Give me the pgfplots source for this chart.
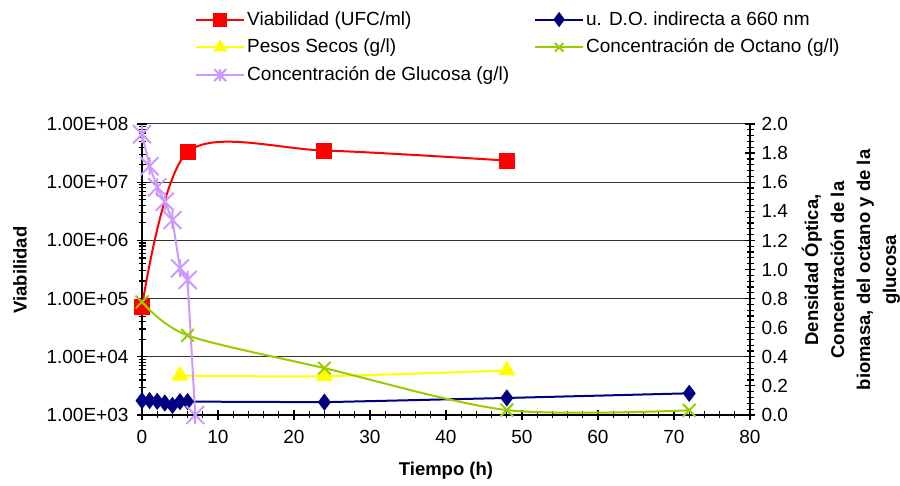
\documentclass[border=0pt]{standalone}
\usepackage{fontspec}
\setmainfont{Liberation Sans}
\usepackage{pgfplots}
\pgfplotsset{compat=1.18}
\definecolor{viab}{RGB}{255,0,0}
\definecolor{od}{RGB}{0,0,128}
\definecolor{ps}{RGB}{255,255,0}
\definecolor{oct}{RGB}{153,204,0}
\definecolor{glu}{RGB}{204,153,255}
\pgfdeclareplotmark{xstar}{%
  \pgfpathmoveto{\pgfqpoint{-\pgfplotmarksize}{-\pgfplotmarksize}}%
  \pgfpathlineto{\pgfqpoint{\pgfplotmarksize}{\pgfplotmarksize}}%
  \pgfpathmoveto{\pgfqpoint{-\pgfplotmarksize}{\pgfplotmarksize}}%
  \pgfpathlineto{\pgfqpoint{\pgfplotmarksize}{-\pgfplotmarksize}}%
  \pgfpathmoveto{\pgfqpoint{0pt}{-\pgfplotmarksize}}%
  \pgfpathlineto{\pgfqpoint{0pt}{\pgfplotmarksize}}%
  \pgfusepathqstroke}
\begin{document}
\fontsize{19}{22}\selectfont
\begin{tikzpicture}[x=1pt,y=1pt]
\useasboundingbox (0,0) rectangle (900,486);
\pgfplotsset{
  common/.style={
    at={(142pt,71pt)}, anchor=south west,
    width=608pt, height=291pt, scale only axis,
    xmin=0, xmax=80, clip=false,
    tick align=center,
    major tick length=10pt, minor tick length=7pt,
    every tick/.style={black, line width=1.2pt},
    axis line style={black, line width=2pt},
    tick label style={font=\fontsize{19}{22}\selectfont},
    /pgf/number format/assume math mode=true,
  }
}
\begin{axis}[common,
  axis y line*=left, axis x line*=bottom,
  ymode=log, ymin=1e3, ymax=1e8,
  ytick={1e3,1e4,1e5,1e6,1e7,1e8},
  yticklabels={1.00E+03,1.00E+04,1.00E+05,1.00E+06,1.00E+07,1.00E+08},
  minor ytick={2e3,3e3,4e3,5e3,6e3,7e3,8e3,9e3,2e4,3e4,4e4,5e4,6e4,7e4,8e4,9e4,2e5,3e5,4e5,5e5,6e5,7e5,8e5,9e5,2e6,3e6,4e6,5e6,6e6,7e6,8e6,9e6,2e7,3e7,4e7,5e7,6e7,7e7,8e7,9e7},
  xtick={0,10,...,80}, minor x tick num=4,
  ymajorgrids, grid style={black!80, line width=1pt},
  xticklabel style={yshift=-4pt},
  yticklabel style={xshift=-2pt},
]
\addplot[viab, line width=2pt, smooth, mark=square*, mark size=7pt, mark options={solid}]
  coordinates {(0,7.2e4)(6,3.3e7)(24,3.5e7)(48,2.35e7)};
\end{axis}
\begin{axis}[common,
  axis y line*=right, axis x line=none,
  ymin=0, ymax=2,
  ytick={0,0.2,...,2.01}, minor y tick num=4,
  yticklabel style={/pgf/number format/.cd, fixed, fixed zerofill, precision=1},
  legend columns=2,
  legend cell align=left,
  legend style={at={(0.0872,1.395)}, anchor=north west, draw=none, fill=none,
    font=\fontsize{19}{22}\selectfont, inner sep=0pt,
    nodes={inner sep=2pt},
    row sep=7pt,
    /tikz/every even column/.append style={column sep=23pt}},
  legend image code/.code={%
    \draw[mark repeat=2,mark phase=2,#1] plot coordinates {(0pt,0pt) (24pt,0pt) (48pt,0pt)};},
  legend image post style={mark size=6pt},
]
\addlegendimage{viab, line width=2pt, mark=square*}
\addlegendentry{Viabilidad (UFC/ml)}
\addplot[od, line width=2pt, mark=diamond*, mark size=7pt]
  coordinates {(0,0.099)(1,0.099)(2,0.094)(3,0.082)(4,0.066)(5,0.092)(6,0.092)(24,0.088)(48,0.117)(72,0.149)};
\addlegendentry{u. D.O. indirecta a 660 nm}
\addplot[ps, line width=2pt, smooth, mark=triangle*, mark size=8pt, mark options={solid}]
  coordinates {(5,0.271)(24,0.267)(48,0.306)};
\addlegendentry{Pesos Secos (g/l)}
\addplot[oct, line width=2pt, smooth, mark=x, mark size=9pt, mark options={solid}]
  coordinates {(0,0.777)(6,0.547)(24,0.322)(48,0.034)(72,0.032)};
\addlegendentry{Concentración de Octano (g/l)}
\addplot[glu, line width=2pt, mark=xstar, mark size=9pt, mark options={solid}]
  coordinates {(0,1.93)(1,1.71)(2,1.565)(3,1.466)(4,1.34)(5,1.008)(6,0.928)(7,0.0)};
\addlegendentry{Concentración de Glucosa (g/l)}
\end{axis}
\node[rotate=90, font=\fontsize{18.5}{22}\selectfont\bfseries] at (20,216) {Viabilidad};
\node[font=\fontsize{18.5}{22}\selectfont\bfseries] at (446,15) {Tiempo (h)};
\node[rotate=90, align=center, font=\fontsize{18.5}{26}\selectfont\bfseries] at (851,216)
  {Densidad Óptica,\\Concentración de la\\biomasa, del octano y de la\\glucosa};
\end{tikzpicture}
\end{document}
